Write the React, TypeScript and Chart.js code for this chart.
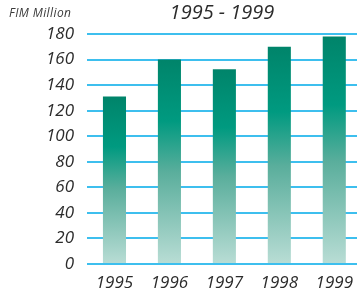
import React, { useEffect, useRef } from "react";
import { Chart, registerables } from "chart.js";

Chart.register(...registerables);

const years = ["1995", "1996", "1997", "1998", "1999"];
const revenue = [131, 160, 152.5, 170, 178];
const titleText = "1995 - 1999";
const unitText = "FIM Million";
const yMin = 0;
const yMax = 180;
const yStep = 20;

const FONT = "'Open Sans', Lato, 'DejaVu Sans', sans-serif";

export default function App() {
  const ref = useRef<HTMLCanvasElement | null>(null);

  useEffect(() => {
    if (!ref.current) return;
    const textPlugin = {
      id: "texts",
      afterDraw(chart: any) {
        const ctx = chart.ctx;
        const area = chart.chartArea;
        ctx.save();
        ctx.fillStyle = "#2b2b2b";
        ctx.textBaseline = "alphabetic";
        ctx.textAlign = "center";
        ctx.font = `italic 400 20px ${FONT}`;
        ctx.fillText(titleText, (area.left + 357) / 2, 19);
        ctx.textAlign = "left";
        ctx.fillStyle = "#3a3a3a";
        ctx.font = `italic 400 12px ${FONT}`;
        try {
          (ctx as any).letterSpacing = "0.4px";
        } catch (e) {}
        ctx.fillText(unitText, 9, 17);
        ctx.restore();
      },
    };

    const chart = new Chart(ref.current, {
      type: "bar",
      data: {
        labels: years,
        datasets: [
          {
            data: revenue,
            backgroundColor: (c: any) => {
              const ch = c.chart;
              const y = ch.scales?.y;
              if (!y || c.parsed == null) return "#009a80";
              const top = y.getPixelForValue(c.parsed.y);
              const bottom = y.getPixelForValue(0);
              if (!isFinite(top) || !isFinite(bottom) || top === bottom) return "#009a80";
              const g = ch.ctx.createLinearGradient(0, top, 0, bottom);
              g.addColorStop(0, "#00846a");
              g.addColorStop(0.3, "#009a80");
              g.addColorStop(0.55, "#5aae9c");
              g.addColorStop(1, "#b9ddd5");
              return g;
            },
            borderWidth: 0,
            categoryPercentage: 1,
            barPercentage: 0.42,
          },
        ],
      },
      options: {
        responsive: false,
        animation: false,
        layout: { padding: { top: 34, right: 0, left: 0, bottom: 0 } },
        plugins: {
          legend: { display: false },
          title: { display: false },
          tooltip: { enabled: false },
        },
        scales: {
          x: {
            grid: { display: false, drawTicks: false },
            border: { display: false },
            ticks: {
              color: "#2b2b2b",
              font: { family: FONT, style: "italic", weight: 400, size: 17 },
              padding: 9,
              maxRotation: 0,
            },
            afterFit: (s: any) => {
              s.height = 25;
            },
          },
          y: {
            min: yMin,
            max: yMax,
            grid: { color: "#3dbfee", lineWidth: 2, drawTicks: false },
            border: { display: false },
            ticks: {
              stepSize: yStep,
              color: "#2b2b2b",
              font: { family: FONT, style: "italic", weight: 400, size: 17 },
              padding: 13,
            },
            afterFit: (s: any) => {
              s.width = 87;
            },
          },
        },
      },
      plugins: [textPlugin],
    });
    return () => chart.destroy();
  }, []);

  return (
    <div
      style={{
        position: "fixed",
        left: 0,
        top: 0,
        width: 357,
        height: 289,
        overflow: "hidden",
        background: "#ffffff",
      }}
    >
      <canvas ref={ref} width={362} height={289} style={{ display: "block" }} />
    </div>
  );
}
